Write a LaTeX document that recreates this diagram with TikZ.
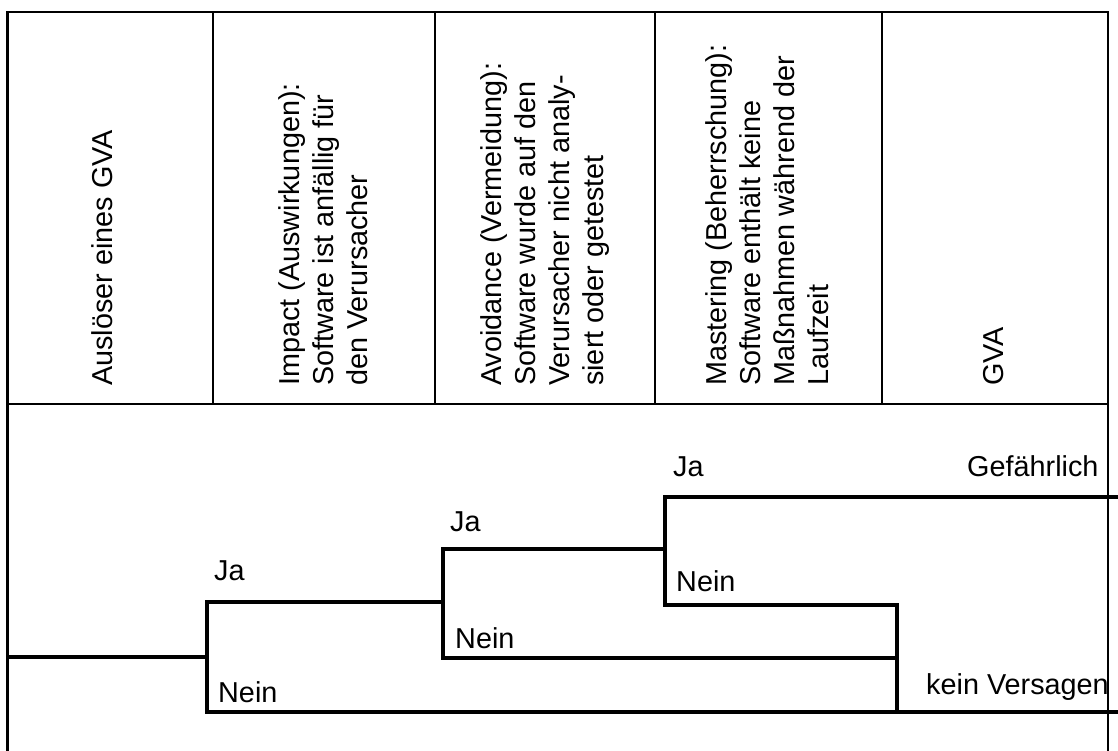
\documentclass[tikz,border=0pt]{standalone}
\usepackage{fontspec}
\setmainfont{Liberation Sans}
\begin{document}
\begin{tikzpicture}[x=1pt,y=-1pt,
  frame/.style={line width=2.7pt},
  branch/.style={line width=4.8pt, line join=miter},
  txt/.style={inner sep=0pt, font=\fontsize{28.8}{34}\selectfont},
  head/.style={txt, rotate=90, anchor=west, align=left},
  lbl/.style={txt, anchor=base west}]
\useasboundingbox (0,0) rectangle (1118,751);

% table frame and header row
\draw[frame] (7.5,751) -- (7.5,12) -- (1108,12) -- (1108,751);
\draw[frame] (7.5,404) -- (1108,404);
\foreach \cx in {213,435,655,882}
  \draw[frame] (\cx,12) -- (\cx,404);

% column headings
\node[head] (h1) at (102,386) {Auslöser eines GVA};
\node[head] (h2) at (323,386) {Impact (Auswirkungen):\\Software ist anfällig für\\den Verursacher};
\node[head] (h3) at (545,386) {Avoidance (Vermeidung):\\Software wurde auf den\\Verursacher nicht analy-\\siert oder getestet};
\node[head] (h4) at (767,386) {Mastering (Beherrschung):\\Software enthält keine\\Maßnahmen während der\\Laufzeit};
\node[head] (h5) at (994,386) {GVA};

% branch points of the event tree
\coordinate (start) at (7.5,657);
\coordinate (s1)  at (207,657);
\coordinate (s1y) at (207,602);
\coordinate (s1n) at (207,712);
\coordinate (s2)  at (443,602);
\coordinate (s2y) at (443,549);
\coordinate (s2n) at (443,658);
\coordinate (s3)  at (665,549);
\coordinate (s3y) at (665,497);
\coordinate (s3n) at (665,605);
\coordinate (m)   at (897,605);
\coordinate (mm)  at (897,658);
\coordinate (mb)  at (897,712);
\coordinate (endy) at (1118,497);
\coordinate (endn) at (1118,712);

\draw[branch] (start) -- (s1);
\draw[branch] (s2) -- (s1y) -- (s1n) -- (endn);
\draw[branch] (s3) -- (s2y) -- (s2n) -- (mm);
\draw[branch] (endy) -- (s3y) -- (s3n) -- (m) -- (mb);

% branch labels
\node[lbl] (ja1)   at (214,580) {Ja};
\node[lbl] (nein1) at (218,702) {Nein};
\node[lbl] (ja2)   at (450,531) {Ja};
\node[lbl] (nein2) at (455,648) {Nein};
\node[lbl] (ja3)   at (673,476) {Ja};
\node[lbl] (nein3) at (676,591) {Nein};
\node[lbl] (gef)   at (967,476) {Gefährlich};
\node[lbl] (kein)  at (926,694) {kein Versagen};
\end{tikzpicture}
\end{document}
